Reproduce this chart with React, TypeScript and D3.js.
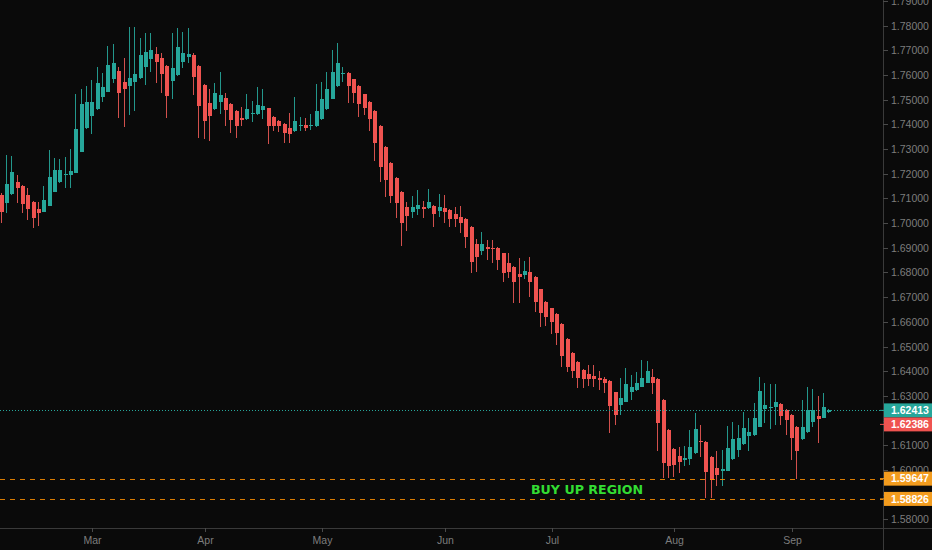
import React from "react";
import * as d3 from "d3";

const opens = [
  1.7114, 1.7081, 1.7117, 1.7166, 1.7152, 1.7114, 1.7087, 1.7056, 1.7047, 1.7071,
  1.7128, 1.7168, 1.7198, 1.7195, 1.7205, 1.7290, 1.7385, 1.7436, 1.7461, 1.7512,
  1.7533, 1.7583, 1.7618, 1.7573, 1.7557, 1.7573, 1.7587, 1.7634, 1.7664, 1.7684,
  1.7668, 1.7637, 1.7577, 1.7600, 1.7654, 1.7672, 1.7681, 1.7637, 1.7560, 1.7488,
  1.7461, 1.7492, 1.7508, 1.7483, 1.7455, 1.7425, 1.7421, 1.7442, 1.7442, 1.7459,
  1.7465, 1.7431, 1.7415, 1.7402, 1.7385, 1.7374, 1.7392, 1.7398, 1.7392, 1.7394,
  1.7421, 1.7461, 1.7505, 1.7556, 1.7603, 1.7607, 1.7583, 1.7556, 1.7522, 1.7492,
  1.7456, 1.7394, 1.7310, 1.7243, 1.7182, 1.7128, 1.7065, 1.7047, 1.7056, 1.7065,
  1.7060, 1.7071, 1.7051, 1.7060, 1.7054, 1.7037, 1.7026, 1.7016, 1.6984, 1.6915,
  1.6889, 1.6903, 1.6901, 1.6899, 1.6878, 1.6839, 1.6824, 1.6794, 1.6788, 1.6801,
  1.6783, 1.6732, 1.6682, 1.6655, 1.6631, 1.6592, 1.6530, 1.6473, 1.6437, 1.6406,
  1.6388, 1.6381, 1.6374, 1.6369, 1.6361, 1.6314, 1.6264, 1.6277, 1.6314, 1.6325,
  1.6338, 1.6354, 1.6378, 1.6368, 1.6284, 1.6163, 1.6086, 1.6057, 1.6041, 1.6044,
  1.6068, 1.6119, 1.6115, 1.6054, 1.6008, 1.5994, 1.5997, 1.6044, 1.6082, 1.6106,
  1.6136, 1.6142, 1.6176, 1.6246, 1.6250, 1.6253, 1.6267, 1.6244, 1.6223, 1.6176,
  1.6125, 1.6152, 1.6196, 1.6219, 1.6212, 1.6233,
];
const highs = [
  1.7122, 1.7276, 1.7272, 1.7195, 1.7154, 1.7143, 1.7089, 1.7087, 1.7152, 1.7297,
  1.7263, 1.7259, 1.7267, 1.7301, 1.7522, 1.7542, 1.7556, 1.7580, 1.7634, 1.7607,
  1.7718, 1.7726, 1.7634, 1.7670, 1.7796, 1.7796, 1.7749, 1.7772, 1.7769, 1.7715,
  1.7688, 1.7640, 1.7772, 1.7791, 1.7776, 1.7791, 1.7688, 1.7640, 1.7563, 1.7542,
  1.7569, 1.7614, 1.7529, 1.7486, 1.7458, 1.7469, 1.7522, 1.7495, 1.7550, 1.7542,
  1.7468, 1.7434, 1.7418, 1.7405, 1.7447, 1.7512, 1.7429, 1.7425, 1.7441, 1.7563,
  1.7573, 1.7614, 1.7702, 1.7731, 1.7631, 1.7614, 1.7586, 1.7559, 1.7525, 1.7495,
  1.7459, 1.7397, 1.7313, 1.7246, 1.7185, 1.7131, 1.7087, 1.7110, 1.7135, 1.7091,
  1.7137, 1.7074, 1.7117, 1.7114, 1.7057, 1.7067, 1.7070, 1.7019, 1.6987, 1.6935,
  1.6966, 1.6932, 1.6932, 1.6905, 1.6881, 1.6879, 1.6827, 1.6858, 1.6847, 1.6862,
  1.6786, 1.6735, 1.6685, 1.6658, 1.6634, 1.6595, 1.6533, 1.6476, 1.6440, 1.6409,
  1.6426, 1.6426, 1.6399, 1.6378, 1.6364, 1.6317, 1.6374, 1.6412, 1.6385, 1.6395,
  1.6446, 1.6442, 1.6408, 1.6371, 1.6287, 1.6166, 1.6088, 1.6093, 1.6098, 1.6163,
  1.6230, 1.6183, 1.6118, 1.6057, 1.6075, 1.6082, 1.6179, 1.6196, 1.6183, 1.6233,
  1.6212, 1.6273, 1.6376, 1.6352, 1.6349, 1.6348, 1.6270, 1.6247, 1.6226, 1.6179,
  1.6284, 1.6338, 1.6327, 1.6300, 1.6311, 1.6247,
];
const lows = [
  1.7001, 1.7043, 1.7114, 1.7083, 1.7040, 1.7013, 1.6980, 1.6989, 1.7044, 1.7068,
  1.7125, 1.7162, 1.7142, 1.7142, 1.7202, 1.7287, 1.7382, 1.7361, 1.7458, 1.7492,
  1.7530, 1.7567, 1.7428, 1.7388, 1.7438, 1.7456, 1.7584, 1.7560, 1.7614, 1.7567,
  1.7526, 1.7425, 1.7503, 1.7597, 1.7628, 1.7648, 1.7519, 1.7344, 1.7340, 1.7334,
  1.7458, 1.7442, 1.7392, 1.7364, 1.7344, 1.7394, 1.7418, 1.7411, 1.7438, 1.7421,
  1.7320, 1.7375, 1.7371, 1.7324, 1.7326, 1.7371, 1.7375, 1.7374, 1.7378, 1.7391,
  1.7418, 1.7458, 1.7502, 1.7553, 1.7573, 1.7488, 1.7488, 1.7431, 1.7438, 1.7374,
  1.7252, 1.7168, 1.7107, 1.7083, 1.7022, 1.6908, 1.6970, 1.7020, 1.7033, 1.7020,
  1.7057, 1.6986, 1.7026, 1.7000, 1.6986, 1.6984, 1.6959, 1.6898, 1.6800, 1.6804,
  1.6871, 1.6851, 1.6838, 1.6811, 1.6763, 1.6777, 1.6678, 1.6678, 1.6774, 1.6702,
  1.6638, 1.6579, 1.6585, 1.6551, 1.6507, 1.6419, 1.6395, 1.6372, 1.6331, 1.6331,
  1.6341, 1.6338, 1.6325, 1.6311, 1.6149, 1.6183, 1.6223, 1.6274, 1.6284, 1.6321,
  1.6335, 1.6351, 1.6307, 1.6075, 1.5967, 1.5967, 1.5973, 1.5987, 1.6014, 1.6021,
  1.6065, 1.6054, 1.5886, 1.5886, 1.5933, 1.5933, 1.5994, 1.6041, 1.6054, 1.6103,
  1.6078, 1.6139, 1.6173, 1.6190, 1.6165, 1.6183, 1.6183, 1.6142, 1.6041, 1.5963,
  1.6122, 1.6149, 1.6174, 1.6111, 1.6209, 1.6230,
];
const closes = [
  1.7047, 1.7159, 1.7209, 1.7142, 1.7077, 1.7058, 1.7022, 1.7040, 1.7093, 1.7186,
  1.7216, 1.7216, 1.7200, 1.7212, 1.7380, 1.7482, 1.7492, 1.7492, 1.7567, 1.7553,
  1.7641, 1.7650, 1.7526, 1.7542, 1.7589, 1.7603, 1.7681, 1.7695, 1.7702, 1.7652,
  1.7604, 1.7515, 1.7630, 1.7715, 1.7688, 1.7685, 1.7593, 1.7475, 1.7415, 1.7434,
  1.7529, 1.7519, 1.7459, 1.7418, 1.7394, 1.7418, 1.7461, 1.7447, 1.7479, 1.7475,
  1.7394, 1.7394, 1.7392, 1.7364, 1.7361, 1.7414, 1.7398, 1.7387, 1.7398, 1.7455,
  1.7502, 1.7542, 1.7614, 1.7648, 1.7607, 1.7556, 1.7526, 1.7482, 1.7465, 1.7421,
  1.7324, 1.7229, 1.7175, 1.7110, 1.7081, 1.7000, 1.7029, 1.7067, 1.7074, 1.7056,
  1.7085, 1.7037, 1.7067, 1.7047, 1.7016, 1.7017, 1.7002, 1.6945, 1.6844, 1.6864,
  1.6916, 1.6897, 1.6895, 1.6851, 1.6797, 1.6804, 1.6761, 1.6783, 1.6807, 1.6761,
  1.6682, 1.6635, 1.6621, 1.6601, 1.6554, 1.6462, 1.6419, 1.6399, 1.6372, 1.6369,
  1.6369, 1.6369, 1.6365, 1.6352, 1.6260, 1.6223, 1.6291, 1.6349, 1.6338, 1.6354,
  1.6374, 1.6402, 1.6354, 1.6192, 1.6030, 1.6017, 1.6021, 1.6034, 1.6050, 1.6093,
  1.6167, 1.6113, 1.5990, 1.5960, 1.5980, 1.6005, 1.6089, 1.6125, 1.6129, 1.6169,
  1.6152, 1.6210, 1.6318, 1.6264, 1.6254, 1.6275, 1.6219, 1.6203, 1.6129, 1.6075,
  1.6176, 1.6241, 1.6241, 1.6206, 1.6254, 1.62413,
];

const monthLabels = ["Mar", "Apr", "May", "Jun", "Jul", "Aug", "Sep"];
const monthBarIndex = [17, 38, 60, 83, 103, 126, 148];

const lastPrice = 1.62413;
const prevPrice = 1.62386;
const zoneTop = 1.59647;
const zoneBottom = 1.58826;
const zoneText = "BUY UP REGION";

const W = 932;
const H = 550;
const AXIS_X = 883;
const AXIS_Y = 528;
const BG = "#0a0a0a";
const UP = "#26a69a";
const DOWN = "#ef5350";
const UP_WICK = "#23978c";
const DOWN_WICK = "#d2504d";
const ORANGE = "#f39c1e";
const ORANGE_LINE = "#ff9100";
const TEXT = "#7d7d7d";
const FONT = "'Liberation Sans', Arial, sans-serif";

export default function App() {
  const n = closes.length;
  const x = d3.scaleLinear().domain([0, n - 1]).range([1.7, 829.3]);
  const y = d3.scaleLinear().domain([1.58, 1.78]).range([519.3, 25.7]);
  const ticks = d3.range(1.58, 1.7905, 0.01);
  const fmt = (v: number) => v.toFixed(5);
  const bodyW = 4;
  const labelH = 14;

  const labels = [
    { v: lastPrice, cy: y(lastPrice), fill: UP },
    { v: prevPrice, cy: y(lastPrice) + labelH, fill: DOWN },
    { v: zoneTop, cy: y(zoneTop), fill: ORANGE },
    { v: zoneBottom, cy: y(zoneBottom), fill: ORANGE },
  ];
  const hidden = (ty: number) =>
    labels.some((l) => Math.abs(ty - l.cy) < labelH / 2 - 1);

  return (
    <svg
      width={W}
      height={H}
      style={{ position: "fixed", left: 0, top: 0, display: "block", background: BG }}
    >
      <rect x={0} y={0} width={W} height={H} fill={BG} />
      <defs>
        <clipPath id="plot">
          <rect x={0} y={0} width={AXIS_X} height={AXIS_Y} />
        </clipPath>
      </defs>

      <g clipPath="url(#plot)">
        {closes.map((c, i) => {
          const o = opens[i];
          const up = c >= o;
          const cx = x(i);
          const left = Math.round(cx - bodyW / 2);
          const yTop = Math.round(y(Math.max(o, c)));
          const yBot = Math.round(y(Math.min(o, c)));
          const hgt = Math.max(1, yBot - yTop);
          return (
            <g key={i}>
              <line
                x1={left + 1.5}
                x2={left + 1.5}
                y1={Math.round(y(highs[i]))}
                y2={Math.round(y(lows[i]))}
                stroke={up ? UP_WICK : DOWN_WICK}
                strokeWidth={1}
              />
              <rect x={left} y={yTop} width={bodyW} height={hgt} fill={up ? UP : DOWN} />
            </g>
          );
        })}

        <line
          x1={0}
          x2={AXIS_X}
          y1={Math.round(y(lastPrice)) + 0.5}
          y2={Math.round(y(lastPrice)) + 0.5}
          stroke={UP}
          strokeWidth={1}
          strokeDasharray="1 2"
        />
        {[zoneTop, zoneBottom].map((v, i) => (
          <line
            key={i}
            x1={0}
            x2={AXIS_X}
            y1={Math.round(y(v)) + 0.5}
            y2={Math.round(y(v)) + 0.5}
            stroke={ORANGE_LINE}
            strokeOpacity={0.85}
            strokeWidth={1}
            strokeDasharray="5 5"
          />
        ))}
        <text
          x={531}
          y={y((zoneTop + zoneBottom) / 2) + 5}
          fill="#33dd33"
          fontFamily="'DejaVu Sans', Verdana, sans-serif"
          fontWeight="bold"
          fontSize={13}
          textLength={112}
          lengthAdjust="spacingAndGlyphs"
        >
          {zoneText}
        </text>
      </g>

      <line x1={AXIS_X + 0.5} x2={AXIS_X + 0.5} y1={0} y2={H} stroke="#3a3a3a" />
      <line x1={0} x2={W} y1={AXIS_Y + 0.5} y2={AXIS_Y + 0.5} stroke="#3a3a3a" />
      {ticks.map((t, i) => {
        const ty = Math.round(y(t)) + 0.5;
        return (
          <g key={i}>
            <line x1={AXIS_X} x2={AXIS_X + 5} y1={ty} y2={ty} stroke="#4a4a4a" />
            {!hidden(ty) && (
              <text x={891} y={ty + 3.5} fill={TEXT} fontFamily={FONT} fontSize={10.5}>
                {fmt(t)}
              </text>
            )}
          </g>
        );
      })}

      {labels.map((l, i) => (
        <g key={i}>
          <rect x={AXIS_X + 1} y={l.cy - labelH / 2} width={W - AXIS_X} height={labelH} fill={l.fill} />
          <line x1={AXIS_X - 3} x2={AXIS_X + 1} y1={l.cy} y2={l.cy} stroke={l.fill} />
          <text
            x={891}
            y={l.cy + 3.8}
            fill="#ffffff"
            fontFamily={FONT}
            fontSize={10.5}
            fontWeight="bold"
          >
            {fmt(l.v)}
          </text>
        </g>
      ))}

      {monthLabels.map((m, i) => {
        const tx = Math.round(x(monthBarIndex[i])) + 0.5;
        return (
          <g key={m}>
            <line x1={tx} x2={tx} y1={AXIS_Y} y2={AXIS_Y + 4} stroke="#4a4a4a" />
            <text
              x={tx}
              y={544}
              fill={TEXT}
              fontFamily={FONT}
              fontSize={10.5}
              textAnchor="middle"
            >
              {m}
            </text>
          </g>
        );
      })}
    </svg>
  );
}
